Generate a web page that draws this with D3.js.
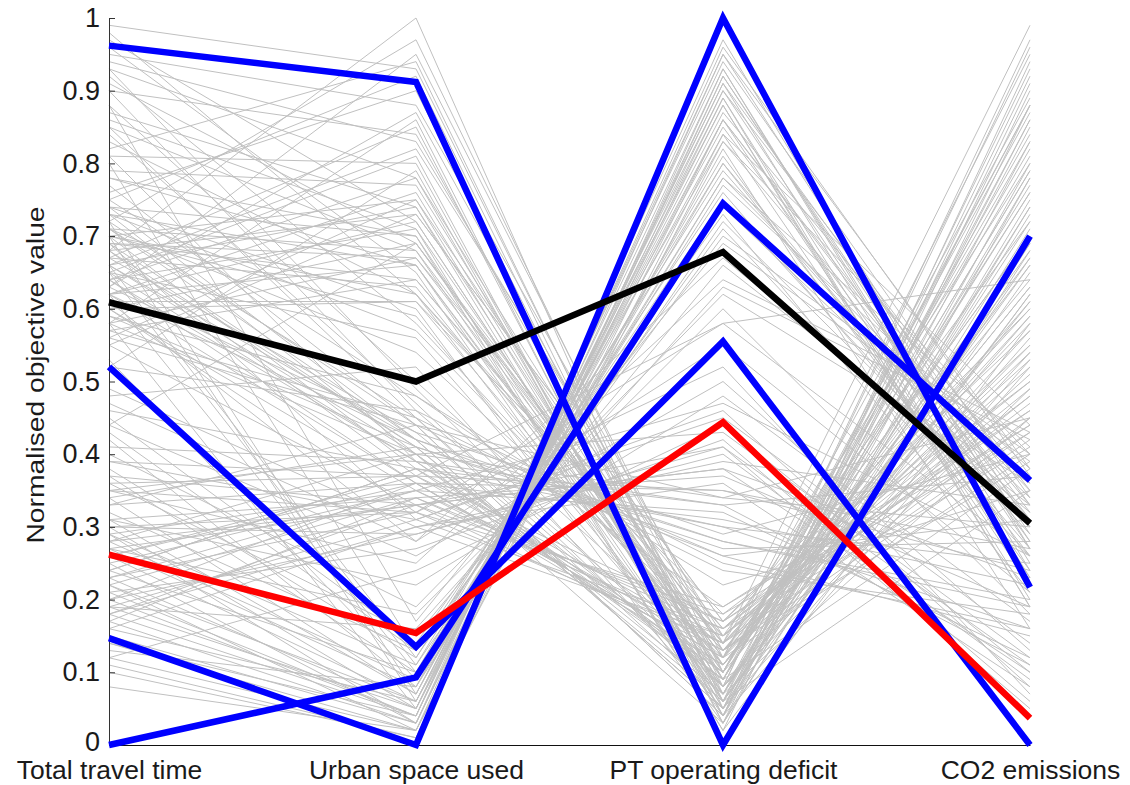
<!DOCTYPE html>
<html>
<head>
<meta charset="utf-8">
<script src="https://cdn.jsdelivr.net/npm/d3@7"></script>
<style>
  body { margin: 0; background: #fff; }
  text { font-family: "Liberation Sans", Arial, sans-serif; fill: #1a1a1a; }
</style>
</head>
<body>
<div id="chart-container"></div>
<script>
// Objectives (axes of the parallel coordinates plot)
let objectives = ["Total travel time", "Urban space used", "PT operating deficit", "CO2 emissions"];
let yTicks = [0, 0.1, 0.2, 0.3, 0.4, 0.5, 0.6, 0.7, 0.8, 0.9, 1];

// Highlighted solutions
let blueSolutions = [
  [0.962, 0.912, 0.0, 0.70],
  [0.52, 0.135, 0.555, 0.0],
  [0.147, 0.0, 1.0, 0.217],
  [0.0, 0.093, 0.745, 0.364]
];
let blackSolution = [0.609, 0.500, 0.678, 0.305];
let redSolution = [0.262, 0.154, 0.444, 0.037];

// All other solutions (grey)
let greySolutions = [
  [0.99,0.93,0.08,0.97],[0.68,1.00,0.05,0.92],[0.72,0.97,0.10,0.88],[0.63,0.95,0.12,0.95],
  [0.75,0.92,0.06,0.85],[0.95,0.88,0.14,0.80],[0.58,0.86,0.03,0.90],[0.90,0.84,0.09,0.76],
  [0.66,0.82,0.15,0.72],[0.81,0.80,0.04,0.83],[0.93,0.78,0.11,0.68],[0.62,0.76,0.07,0.78],
  [0.70,0.75,0.13,0.64],[0.87,0.74,0.05,0.74],[0.55,0.73,0.17,0.60],[0.97,0.72,0.08,0.66],
  [0.64,0.71,0.10,0.87],[0.78,0.70,0.02,0.58],[0.60,0.69,0.12,0.70],[0.85,0.68,0.06,0.62],
  [0.69,0.67,0.16,0.55],[0.73,0.66,0.09,0.81],[0.96,0.65,0.04,0.52],[0.57,0.64,0.14,0.48],
  [0.67,0.63,0.11,0.57],[0.83,0.62,0.07,0.45],[0.61,0.61,0.18,0.50],[0.74,0.60,0.03,0.68],
  [0.92,0.58,0.13,0.42],[0.65,0.56,0.08,0.54],[0.71,0.54,0.15,0.47],[0.48,0.52,0.05,0.62],
  [0.88,0.50,0.12,0.40],[0.59,0.48,0.19,0.44],[0.76,0.90,0.06,0.93],[0.63,0.87,0.10,0.59],
  [0.94,0.83,0.13,0.51],[0.52,0.79,0.04,0.71],[0.79,0.77,0.09,0.38],[0.68,0.73,0.17,0.46],
  [0.86,0.71,0.02,0.88],[0.44,0.69,0.11,0.63],[0.62,0.66,0.06,0.35],[0.98,0.62,0.14,0.58],
  [0.70,0.59,0.08,0.49],
  [0.66,0.74,0.09,0.79],[0.71,0.68,0.12,0.61],[0.64,0.78,0.05,0.86],[0.69,0.64,0.15,0.53],
  [0.74,0.70,0.07,0.74],[0.60,0.61,0.11,0.67],[0.67,0.85,0.04,0.94],[0.73,0.57,0.13,0.45],
  [0.62,0.72,0.08,0.56],[0.78,0.66,0.10,0.83],[0.56,0.75,0.06,0.65],[0.91,0.69,0.14,0.43],
  [0.65,0.81,0.03,0.78],[0.70,0.62,0.16,0.50],[0.82,0.94,0.07,0.69],[0.58,0.67,0.12,0.89],
  [0.22,0.02,0.95,0.30],[0.18,0.04,0.93,0.25],[0.30,0.05,0.91,0.33],[0.15,0.03,0.89,0.22],
  [0.26,0.06,0.87,0.36],[0.42,0.08,0.85,0.28],[0.12,0.02,0.83,0.40],[0.34,0.07,0.88,0.19],
  [0.20,0.04,0.97,0.27],[0.38,0.12,0.79,0.31],[0.28,0.09,0.81,0.24],[0.17,0.03,0.90,0.35],
  [0.45,0.14,0.73,0.21],[0.24,0.10,0.77,0.38],[0.10,0.01,0.92,0.29],[0.32,0.13,0.71,0.26],
  [0.36,0.15,0.66,0.33],[0.19,0.16,0.63,0.42],[0.65,0.11,0.80,0.30],[0.72,0.07,0.86,0.23],
  [0.58,0.05,0.94,0.34],[0.80,0.13,0.76,0.27],[0.88,0.17,0.69,0.39],[0.27,0.18,0.60,0.18],
  [0.14,0.02,0.84,0.44],[0.23,0.05,0.88,0.20],[0.40,0.19,0.62,0.36],[0.08,0.02,0.86,0.31],
  [0.16,0.06,0.82,0.16],[0.66,0.12,0.75,0.29],[0.29,0.03,0.96,0.37],[0.53,0.09,0.78,0.41],
  [0.21,0.04,0.91,0.23],[0.13,0.08,0.74,0.34],[0.47,0.28,0.67,0.32],[0.60,0.32,0.58,0.26],
  [0.35,0.25,0.64,0.43],
  [0.25,0.03,0.92,0.28],[0.19,0.05,0.86,0.32],[0.31,0.07,0.84,0.22],[0.14,0.04,0.95,0.38],
  [0.27,0.08,0.80,0.26],[0.22,0.06,0.89,0.19],[0.37,0.10,0.78,0.35],[0.11,0.01,0.93,0.24],
  [0.29,0.11,0.72,0.30],[0.43,0.13,0.70,0.40],[0.70,0.06,0.90,0.27],[0.62,0.10,0.83,0.33],
  [0.25,0.35,0.32,0.12],[0.62,0.42,0.28,0.20],[0.18,0.30,0.36,0.08],[0.70,0.38,0.30,0.25],
  [0.33,0.44,0.26,0.15],[0.55,0.33,0.38,0.10],[0.28,0.40,0.34,0.30],[0.85,0.45,0.24,0.18],
  [0.21,0.27,0.42,0.06],[0.64,0.36,0.31,0.22],[0.39,0.31,0.45,0.14],[0.75,0.48,0.22,0.35],
  [0.30,0.29,0.40,0.09],[0.59,0.41,0.27,0.28],[0.17,0.34,0.37,0.19],[0.81,0.39,0.33,0.11],
  [0.44,0.26,0.50,0.13],[0.67,0.43,0.29,0.40],[0.26,0.37,0.35,0.24],[0.90,0.46,0.25,0.16],
  [0.35,0.32,0.52,0.07],[0.61,0.28,0.55,0.21],[0.23,0.35,0.47,0.26],[0.73,0.40,0.43,0.12],
  [0.49,0.30,0.39,0.33],[0.31,0.22,0.48,0.17],[0.68,0.37,0.58,0.64],[0.12,0.24,0.44,0.10],
  [0.56,0.44,0.34,0.45],[0.37,0.33,0.41,0.05],
  [0.65,0.39,0.30,0.16],[0.28,0.33,0.38,0.23],[0.71,0.42,0.26,0.31],[0.20,0.29,0.41,0.11],
  [0.62,0.36,0.35,0.27],[0.34,0.41,0.28,0.19],[0.69,0.31,0.46,0.08],[0.24,0.38,0.33,0.37],
  [0.24,0.38,0.10,0.82],[0.66,0.42,0.05,0.75],[0.29,0.35,0.14,0.60],[0.71,0.45,0.08,0.96],
  [0.19,0.31,0.16,0.48],[0.58,0.40,0.03,0.69],[0.33,0.36,0.12,0.55],[0.84,0.47,0.07,0.86],
  [0.27,0.33,0.18,0.43],[0.63,0.43,0.09,0.79],[0.41,0.39,0.11,0.66],[0.16,0.30,0.15,0.52],
  [0.77,0.44,0.04,0.91],[0.36,0.37,0.13,0.39],[0.69,0.41,0.06,0.73],[0.22,0.34,0.17,0.57],
  [0.52,0.46,0.10,0.84],[0.30,0.32,0.19,0.46],[0.93,0.49,0.08,0.61],[0.46,0.38,0.14,0.99],
  [0.20,0.36,0.12,0.70],[0.74,0.42,0.05,0.53],[0.35,0.40,0.09,0.77],[0.60,0.35,0.16,0.41],
  [0.68,0.41,0.07,0.72],[0.26,0.36,0.11,0.63],[0.72,0.44,0.04,0.80],[0.31,0.34,0.15,0.49],
  [0.64,0.39,0.09,0.88],[0.18,0.33,0.13,0.59],[0.57,0.45,0.06,0.67],[0.39,0.37,0.17,0.44],
  [0.66,0.40,0.10,0.76],[0.23,0.32,0.14,0.54]
];

// Set up SVG dimensions
let margin = { top: 18, right: 100, bottom: 40, left: 109 },
  width = 1130 - margin.left - margin.right,
  height = 785 - margin.top - margin.bottom;

let svg = d3.select("#chart-container").append("svg")
  .attr("width", 1130)
  .attr("height", 785)
  .append("g")
  .attr("transform", "translate(" + margin.left + "," + margin.top + ")");

// Scales
let x = d3.scalePoint().domain(objectives).range([0, width]);
let y = d3.scaleLinear().domain([0, 1]).range([height, 0]);

let line = d3.line()
  .x((d, i) => x(objectives[i]))
  .y(d => y(d));

// Grey solutions
svg.append("g")
  .selectAll("path")
  .data(greySolutions)
  .enter().append("path")
  .attr("d", line)
  .style("fill", "none")
  .style("stroke", "#c0c0c0")
  .style("stroke-width", 1);

// Axes
let yAxis = d3.axisLeft(y)
  .tickValues(yTicks)
  .tickFormat(d3.format("~g"))
  .tickSizeInner(-6)
  .tickSizeOuter(0)
  .tickPadding(9);

let gy = svg.append("g").call(yAxis);
gy.select(".domain").attr("stroke", "#333");
gy.selectAll(".tick line").attr("stroke", "#333");
gy.selectAll("text").style("font-size", "27px").attr("fill", "#1a1a1a");
// keep the "0" label clear of the first objective name
gy.selectAll(".tick").filter(d => d === 0).select("text").attr("dy", "0.2em");

let xAxis = d3.axisBottom(x)
  .tickSizeInner(0)
  .tickSizeOuter(0)
  .tickPadding(15);

let gx = svg.append("g")
  .attr("transform", "translate(0," + height + ")")
  .call(xAxis);
gx.select(".domain").attr("stroke", "#111");
gx.selectAll("text").style("font-size", "26.5px").attr("fill", "#1a1a1a");

// Y axis label
svg.append("text")
  .attr("transform", "rotate(-90)")
  .attr("x", -(375 - margin.top))
  .attr("y", 44 - margin.left)
  .attr("text-anchor", "middle")
  .attr("textLength", 337)
  .attr("lengthAdjust", "spacingAndGlyphs")
  .style("font-size", "23px")
  .text("Normalised objective value");

// Highlighted solutions
let bold = svg.append("g")
  .style("fill", "none")
  .style("stroke-width", 6.5)
  .style("stroke-linejoin", "miter");

bold.selectAll(".blue")
  .data(blueSolutions)
  .enter().append("path")
  .attr("class", "blue")
  .attr("d", line)
  .style("stroke", "#0000ff");

bold.append("path")
  .datum(blackSolution)
  .attr("d", line)
  .style("stroke", "#000000");

bold.append("path")
  .datum(redSolution)
  .attr("d", line)
  .style("stroke", "#ff0000");
</script>
</body>
</html>
